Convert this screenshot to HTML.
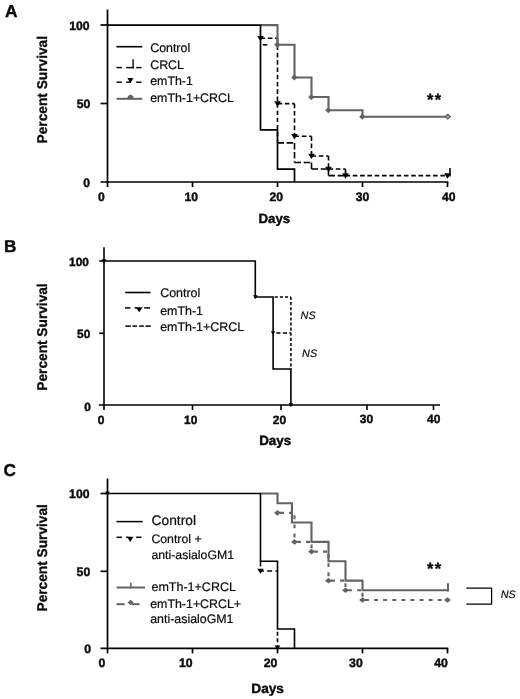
<!DOCTYPE html>
<html><head><meta charset="utf-8"><title>Survival curves</title>
<style>
html,body{margin:0;padding:0;background:#fff;}
body{width:520px;height:699px;overflow:hidden;font-family:"Liberation Sans",sans-serif;}
svg{display:block;will-change:transform;}
text{text-rendering:geometricPrecision;}
</style></head>
<body>
<svg width="520" height="699" viewBox="0 0 520 699">
<rect x="0" y="0" width="520" height="699" fill="#ffffff"/>
<line x1="107.50" y1="9.50" x2="107.50" y2="182.85" stroke="#000" stroke-width="1.7"/>
<line x1="100.50" y1="182.00" x2="448.35" y2="182.00" stroke="#000" stroke-width="1.7"/>
<line x1="100.50" y1="25.00" x2="107.50" y2="25.00" stroke="#000" stroke-width="1.7"/>
<line x1="100.50" y1="103.50" x2="107.50" y2="103.50" stroke="#000" stroke-width="1.7"/>
<line x1="107.50" y1="182.00" x2="107.50" y2="187.00" stroke="#000" stroke-width="1.7"/>
<line x1="192.50" y1="182.00" x2="192.50" y2="187.00" stroke="#000" stroke-width="1.7"/>
<line x1="277.50" y1="182.00" x2="277.50" y2="187.00" stroke="#000" stroke-width="1.7"/>
<line x1="362.50" y1="182.00" x2="362.50" y2="187.00" stroke="#000" stroke-width="1.7"/>
<line x1="447.50" y1="182.00" x2="447.50" y2="187.00" stroke="#000" stroke-width="1.7"/>
<text x="5.10" y="17.00" font-family="Liberation Sans, sans-serif" font-size="17.3" font-weight="bold" font-style="normal" text-anchor="start" fill="#0a0a0a" stroke="#0a0a0a" stroke-width="0.4" >A</text>
<text x="89.50" y="29.60" font-family="Liberation Sans, sans-serif" font-size="12.2" font-weight="bold" font-style="normal" text-anchor="end" fill="#0a0a0a" stroke="#0a0a0a" stroke-width="0.4" >100</text>
<text x="90.40" y="108.10" font-family="Liberation Sans, sans-serif" font-size="12.2" font-weight="bold" font-style="normal" text-anchor="end" fill="#0a0a0a" stroke="#0a0a0a" stroke-width="0.4" >50</text>
<text x="90.00" y="186.60" font-family="Liberation Sans, sans-serif" font-size="12.2" font-weight="bold" font-style="normal" text-anchor="end" fill="#0a0a0a" stroke="#0a0a0a" stroke-width="0.4" >0</text>
<text x="101.30" y="200.80" font-family="Liberation Sans, sans-serif" font-size="12.2" font-weight="bold" font-style="normal" text-anchor="middle" fill="#0a0a0a" stroke="#0a0a0a" stroke-width="0.4" >0</text>
<text x="191.20" y="200.80" font-family="Liberation Sans, sans-serif" font-size="12.2" font-weight="bold" font-style="normal" text-anchor="middle" fill="#0a0a0a" stroke="#0a0a0a" stroke-width="0.4" >10</text>
<text x="276.30" y="200.80" font-family="Liberation Sans, sans-serif" font-size="12.2" font-weight="bold" font-style="normal" text-anchor="middle" fill="#0a0a0a" stroke="#0a0a0a" stroke-width="0.4" >20</text>
<text x="362.60" y="200.80" font-family="Liberation Sans, sans-serif" font-size="12.2" font-weight="bold" font-style="normal" text-anchor="middle" fill="#0a0a0a" stroke="#0a0a0a" stroke-width="0.4" >30</text>
<text x="448.80" y="200.80" font-family="Liberation Sans, sans-serif" font-size="12.2" font-weight="bold" font-style="normal" text-anchor="middle" fill="#0a0a0a" stroke="#0a0a0a" stroke-width="0.4" >40</text>
<text x="274.30" y="222.90" font-family="Liberation Sans, sans-serif" font-size="13.3" font-weight="bold" font-style="normal" text-anchor="middle" fill="#0a0a0a" stroke="#0a0a0a" stroke-width="0.4" >Days</text>
<text transform="translate(46.9,89.7) rotate(-90) scale(0.972,1)" font-family="Liberation Sans, sans-serif" font-size="14.1" font-weight="bold" text-anchor="middle" fill="#0a0a0a" stroke="#0a0a0a" stroke-width="0.3">Percent Survival</text>
<line x1="262.70" y1="44.78" x2="267.30" y2="44.78" stroke="#000" stroke-width="1.6"/>
<path d="M277.50,103.65 L277.50,142.90" fill="none" stroke="#000" stroke-width="1.6" stroke-dasharray="4.2,2.9" stroke-dashoffset="0" stroke-linecap="butt" stroke-linejoin="miter"/>
<path d="M277.50,142.90 L294.50,142.90 M294.50,142.90 L294.50,162.53 M294.50,162.53 L311.50,162.53 M311.50,162.53 L311.50,169.07 M311.50,169.07 L328.50,169.07 M328.50,169.07 L328.50,175.60 M328.50,175.60 L345.50,175.60" fill="none" stroke="#000" stroke-width="1.6" stroke-dasharray="6.5,2.7" stroke-dashoffset="0" stroke-linecap="butt" stroke-linejoin="miter"/>
<line x1="450.00" y1="168.00" x2="450.00" y2="176.50" stroke="#000" stroke-width="1.6"/>
<path d="M260.50,38.18 L277.50,38.18 M277.50,38.18 L277.50,103.65 M277.50,103.65 L294.50,103.65 M294.50,103.65 L294.50,136.31 M294.50,136.31 L311.50,136.31 M311.50,136.31 L311.50,155.93 M311.50,155.93 L328.50,155.93 M328.50,155.93 L328.50,169.07 M328.50,169.07 L345.50,169.07 M345.50,169.07 L345.50,175.60 M345.50,175.60 L447.50,175.60" fill="none" stroke="#000" stroke-width="1.6" stroke-dasharray="4.6,2.7" stroke-dashoffset="0" stroke-linecap="butt" stroke-linejoin="miter"/>
<path d="M257.20,35.88 L263.80,35.88 L260.50,41.28 Z" fill="#000"/>
<path d="M274.20,101.35 L280.80,101.35 L277.50,106.75 Z" fill="#000"/>
<path d="M291.20,134.01 L297.80,134.01 L294.50,139.41 Z" fill="#000"/>
<path d="M308.20,153.63 L314.80,153.63 L311.50,159.03 Z" fill="#000"/>
<path d="M325.20,166.77 L331.80,166.77 L328.50,172.17 Z" fill="#000"/>
<path d="M342.20,173.30 L348.80,173.30 L345.50,178.70 Z" fill="#000"/>
<path d="M444.20,173.30 L450.80,173.30 L447.50,178.70 Z" fill="#000"/>
<path d="M260.50,25.15 L277.50,25.15 L277.50,44.78 L294.50,44.78 L294.50,77.43 L311.50,77.43 L311.50,97.06 L328.50,97.06 L328.50,110.24 L362.50,110.24 L362.50,116.68 L447.50,116.68" fill="none" stroke="#636363" stroke-width="2.1" stroke-linecap="butt" stroke-linejoin="miter"/>
<path d="M274.20,44.78 L277.30,41.68 L280.40,44.78 L277.30,47.88 Z" fill="#636363"/>
<path d="M291.20,77.43 L294.30,74.33 L297.40,77.43 L294.30,80.53 Z" fill="#636363"/>
<path d="M308.20,97.06 L311.30,93.96 L314.40,97.06 L311.30,100.16 Z" fill="#636363"/>
<path d="M325.20,110.24 L328.30,107.14 L331.40,110.24 L328.30,113.34 Z" fill="#636363"/>
<path d="M359.20,116.68 L362.30,113.58 L365.40,116.68 L362.30,119.78 Z" fill="#636363"/>
<path d="M444.90,116.68 L447.80,114.28 L450.50,116.68 L447.80,119.08 Z" fill="#a8a8a8" stroke="#636363" stroke-width="1.2"/>
<path d="M107.50,25.15 L260.50,25.15 L260.50,129.87 L277.50,129.87 L277.50,169.07 L294.50,169.07 L294.50,182.15" fill="none" stroke="#000" stroke-width="1.7" stroke-linecap="butt" stroke-linejoin="miter"/>
<text x="426.90" y="104.90" font-family="Liberation Sans, sans-serif" font-size="16.3" font-weight="bold" font-style="normal" text-anchor="start" fill="#0a0a0a" stroke="#0a0a0a" stroke-width="0.4" letter-spacing="1.5">**</text>
<line x1="116.40" y1="46.70" x2="142.30" y2="46.70" stroke="#000" stroke-width="1.6"/>
<text x="150.20" y="52.20" font-family="Liberation Sans, sans-serif" font-size="12.4" font-weight="normal" font-style="normal" text-anchor="start" fill="#0a0a0a" stroke="#0a0a0a" stroke-width="0.2" >Control</text>
<line x1="116.50" y1="67.60" x2="121.90" y2="67.60" stroke="#000" stroke-width="1.45"/>
<line x1="126.20" y1="67.60" x2="133.90" y2="67.60" stroke="#000" stroke-width="1.45"/>
<line x1="136.20" y1="67.60" x2="141.50" y2="67.60" stroke="#000" stroke-width="1.45"/>
<line x1="133.10" y1="59.20" x2="133.10" y2="68.30" stroke="#000" stroke-width="1.35"/>
<text x="150.20" y="69.00" font-family="Liberation Sans, sans-serif" font-size="12.4" font-weight="normal" font-style="normal" text-anchor="start" fill="#0a0a0a" stroke="#0a0a0a" stroke-width="0.2" >CRCL</text>
<line x1="116.50" y1="82.20" x2="121.90" y2="82.20" stroke="#000" stroke-width="1.45"/>
<line x1="126.20" y1="82.20" x2="131.00" y2="82.20" stroke="#000" stroke-width="1.45"/>
<line x1="136.20" y1="82.20" x2="141.50" y2="82.20" stroke="#000" stroke-width="1.45"/>
<path d="M127.30,78.00 L133.50,78.00 L130.40,83.00 Z" fill="#000"/>
<text x="150.20" y="85.30" font-family="Liberation Sans, sans-serif" font-size="12.4" font-weight="normal" font-style="normal" text-anchor="start" fill="#0a0a0a" stroke="#0a0a0a" stroke-width="0.2" >emTh-1</text>
<line x1="116.50" y1="98.80" x2="142.30" y2="98.80" stroke="#636363" stroke-width="2.0"/>
<path d="M127.2,98.8 C127.6,93.4 133.4,93.4 133.8,98.8 Z" fill="#636363"/>
<text x="150.20" y="102.20" font-family="Liberation Sans, sans-serif" font-size="12.4" font-weight="normal" font-style="normal" text-anchor="start" fill="#0a0a0a" stroke="#0a0a0a" stroke-width="0.2" >emTh-1+CRCL</text>
<line x1="104.00" y1="247.30" x2="104.00" y2="405.80" stroke="#000" stroke-width="1.6"/>
<line x1="98.80" y1="405.00" x2="440.00" y2="405.00" stroke="#000" stroke-width="1.6"/>
<line x1="99.20" y1="261.00" x2="104.00" y2="261.00" stroke="#000" stroke-width="1.6"/>
<line x1="99.20" y1="333.30" x2="104.00" y2="333.30" stroke="#000" stroke-width="1.6"/>
<line x1="104.00" y1="405.00" x2="104.00" y2="410.00" stroke="#000" stroke-width="1.6"/>
<line x1="192.50" y1="405.00" x2="192.50" y2="410.00" stroke="#000" stroke-width="1.6"/>
<line x1="281.00" y1="405.00" x2="281.00" y2="410.00" stroke="#000" stroke-width="1.6"/>
<line x1="367.00" y1="405.00" x2="367.00" y2="410.00" stroke="#000" stroke-width="1.6"/>
<line x1="433.50" y1="405.00" x2="433.50" y2="410.00" stroke="#000" stroke-width="1.6"/>
<text x="4.00" y="252.30" font-family="Liberation Sans, sans-serif" font-size="17.2" font-weight="bold" font-style="normal" text-anchor="start" fill="#0a0a0a" stroke="#0a0a0a" stroke-width="0.4" >B</text>
<text x="88.90" y="265.90" font-family="Liberation Sans, sans-serif" font-size="11.9" font-weight="bold" font-style="normal" text-anchor="end" fill="#0a0a0a" stroke="#0a0a0a" stroke-width="0.4" >100</text>
<text x="90.30" y="338.20" font-family="Liberation Sans, sans-serif" font-size="11.9" font-weight="bold" font-style="normal" text-anchor="end" fill="#0a0a0a" stroke="#0a0a0a" stroke-width="0.4" >50</text>
<text x="90.90" y="410.70" font-family="Liberation Sans, sans-serif" font-size="11.9" font-weight="bold" font-style="normal" text-anchor="end" fill="#0a0a0a" stroke="#0a0a0a" stroke-width="0.4" >0</text>
<text x="101.00" y="423.70" font-family="Liberation Sans, sans-serif" font-size="12.0" font-weight="bold" font-style="normal" text-anchor="middle" fill="#0a0a0a" stroke="#0a0a0a" stroke-width="0.4" >0</text>
<text x="190.80" y="423.90" font-family="Liberation Sans, sans-serif" font-size="12.0" font-weight="bold" font-style="normal" text-anchor="middle" fill="#0a0a0a" stroke="#0a0a0a" stroke-width="0.4" >10</text>
<text x="279.50" y="423.70" font-family="Liberation Sans, sans-serif" font-size="12.0" font-weight="bold" font-style="normal" text-anchor="middle" fill="#0a0a0a" stroke="#0a0a0a" stroke-width="0.4" >20</text>
<text x="366.50" y="422.90" font-family="Liberation Sans, sans-serif" font-size="12.0" font-weight="bold" font-style="normal" text-anchor="middle" fill="#0a0a0a" stroke="#0a0a0a" stroke-width="0.4" >30</text>
<text x="433.70" y="422.60" font-family="Liberation Sans, sans-serif" font-size="12.0" font-weight="bold" font-style="normal" text-anchor="middle" fill="#0a0a0a" stroke="#0a0a0a" stroke-width="0.4" >40</text>
<text x="275.20" y="444.80" font-family="Liberation Sans, sans-serif" font-size="13.4" font-weight="bold" font-style="normal" text-anchor="middle" fill="#0a0a0a" stroke="#0a0a0a" stroke-width="0.4" >Days</text>
<text transform="translate(46.9,337) rotate(-90) scale(0.972,1)" font-family="Liberation Sans, sans-serif" font-size="14.1" font-weight="bold" text-anchor="middle" fill="#0a0a0a" stroke="#0a0a0a" stroke-width="0.3">Percent Survival</text>
<path d="M273.10,297.00 L290.90,297.00" fill="none" stroke="#000" stroke-width="1.5" stroke-dasharray="3.1,2.05" stroke-dashoffset="3.55" stroke-linecap="butt" stroke-linejoin="miter"/>
<path d="M290.90,297.00 L290.90,369.00" fill="none" stroke="#000" stroke-width="1.5" stroke-dasharray="3.1,2.0" stroke-dashoffset="0" stroke-linecap="butt" stroke-linejoin="miter"/>
<path d="M273.10,333.00 L290.90,333.00" fill="none" stroke="#000" stroke-width="1.5" stroke-dasharray="4.2,2.3" stroke-dashoffset="3.3" stroke-linecap="butt" stroke-linejoin="miter"/>
<path d="M104.00,261.00 L255.30,261.00 L255.30,297.00 L273.10,297.00 L273.10,369.00 L290.90,369.00 L290.90,405.00" fill="none" stroke="#000" stroke-width="1.6" stroke-linecap="butt" stroke-linejoin="miter"/>
<path d="M101.70,259.30 L106.30,259.30 L104.00,263.30 Z" fill="#000"/>
<path d="M253.00,295.30 L257.60,295.30 L255.30,299.30 Z" fill="#000"/>
<path d="M270.80,331.30 L275.40,331.30 L273.10,335.30 Z" fill="#000"/>
<path d="M288.60,403.30 L293.20,403.30 L290.90,407.30 Z" fill="#000"/>
<text x="300.60" y="318.60" font-family="Liberation Sans, sans-serif" font-size="10.8" font-weight="normal" font-style="italic" text-anchor="start" fill="#0a0a0a" stroke="#0a0a0a" stroke-width="0.2" >NS</text>
<text x="302.10" y="357.10" font-family="Liberation Sans, sans-serif" font-size="10.8" font-weight="normal" font-style="italic" text-anchor="start" fill="#0a0a0a" stroke="#0a0a0a" stroke-width="0.2" >NS</text>
<line x1="125.20" y1="292.50" x2="150.50" y2="292.50" stroke="#000" stroke-width="1.6"/>
<text x="160.20" y="297.10" font-family="Liberation Sans, sans-serif" font-size="12.45" font-weight="normal" font-style="normal" text-anchor="start" fill="#0a0a0a" stroke="#0a0a0a" stroke-width="0.2" >Control</text>
<line x1="125.00" y1="307.90" x2="130.40" y2="307.90" stroke="#000" stroke-width="1.5"/>
<line x1="134.60" y1="307.90" x2="137.00" y2="307.90" stroke="#000" stroke-width="1.5"/>
<line x1="144.20" y1="307.90" x2="150.00" y2="307.90" stroke="#000" stroke-width="1.5"/>
<path d="M135.75,307.15 L142.65,307.15 L139.20,312.25 Z" fill="#000"/>
<text x="160.20" y="314.60" font-family="Liberation Sans, sans-serif" font-size="12.45" font-weight="normal" font-style="normal" text-anchor="start" fill="#0a0a0a" stroke="#0a0a0a" stroke-width="0.2" >emTh-1</text>
<line x1="125.40" y1="326.10" x2="130.80" y2="326.10" stroke="#000" stroke-width="1.5"/>
<line x1="132.40" y1="326.10" x2="136.90" y2="326.10" stroke="#000" stroke-width="1.5"/>
<line x1="139.20" y1="326.10" x2="143.80" y2="326.10" stroke="#000" stroke-width="1.5"/>
<line x1="145.50" y1="326.10" x2="150.80" y2="326.10" stroke="#000" stroke-width="1.5"/>
<text x="160.20" y="331.40" font-family="Liberation Sans, sans-serif" font-size="12.45" font-weight="normal" font-style="normal" text-anchor="start" fill="#0a0a0a" stroke="#0a0a0a" stroke-width="0.2" >emTh-1+CRCL</text>
<line x1="107.50" y1="478.50" x2="107.50" y2="649.25" stroke="#000" stroke-width="1.7"/>
<line x1="100.50" y1="648.40" x2="448.30" y2="648.40" stroke="#000" stroke-width="1.7"/>
<line x1="100.50" y1="493.50" x2="107.50" y2="493.50" stroke="#000" stroke-width="1.7"/>
<line x1="100.50" y1="571.30" x2="107.50" y2="571.30" stroke="#000" stroke-width="1.7"/>
<line x1="107.50" y1="648.40" x2="107.50" y2="653.40" stroke="#000" stroke-width="1.7"/>
<line x1="192.50" y1="648.40" x2="192.50" y2="653.40" stroke="#000" stroke-width="1.7"/>
<line x1="277.50" y1="648.40" x2="277.50" y2="653.40" stroke="#000" stroke-width="1.7"/>
<line x1="362.50" y1="648.40" x2="362.50" y2="653.40" stroke="#000" stroke-width="1.7"/>
<line x1="447.50" y1="648.40" x2="447.50" y2="653.40" stroke="#000" stroke-width="1.7"/>
<text x="3.60" y="475.90" font-family="Liberation Sans, sans-serif" font-size="17.2" font-weight="bold" font-style="normal" text-anchor="start" fill="#0a0a0a" stroke="#0a0a0a" stroke-width="0.4" >C</text>
<text x="89.60" y="498.10" font-family="Liberation Sans, sans-serif" font-size="12.3" font-weight="bold" font-style="normal" text-anchor="end" fill="#0a0a0a" stroke="#0a0a0a" stroke-width="0.4" >100</text>
<text x="90.30" y="575.80" font-family="Liberation Sans, sans-serif" font-size="12.3" font-weight="bold" font-style="normal" text-anchor="end" fill="#0a0a0a" stroke="#0a0a0a" stroke-width="0.4" >50</text>
<text x="91.00" y="653.00" font-family="Liberation Sans, sans-serif" font-size="12.3" font-weight="bold" font-style="normal" text-anchor="end" fill="#0a0a0a" stroke="#0a0a0a" stroke-width="0.4" >0</text>
<text x="102.00" y="667.40" font-family="Liberation Sans, sans-serif" font-size="12.3" font-weight="bold" font-style="normal" text-anchor="middle" fill="#0a0a0a" stroke="#0a0a0a" stroke-width="0.4" >0</text>
<text x="185.80" y="667.40" font-family="Liberation Sans, sans-serif" font-size="12.3" font-weight="bold" font-style="normal" text-anchor="middle" fill="#0a0a0a" stroke="#0a0a0a" stroke-width="0.4" >10</text>
<text x="270.50" y="667.40" font-family="Liberation Sans, sans-serif" font-size="12.3" font-weight="bold" font-style="normal" text-anchor="middle" fill="#0a0a0a" stroke="#0a0a0a" stroke-width="0.4" >20</text>
<text x="355.90" y="667.40" font-family="Liberation Sans, sans-serif" font-size="12.3" font-weight="bold" font-style="normal" text-anchor="middle" fill="#0a0a0a" stroke="#0a0a0a" stroke-width="0.4" >30</text>
<text x="441.00" y="667.40" font-family="Liberation Sans, sans-serif" font-size="12.3" font-weight="bold" font-style="normal" text-anchor="middle" fill="#0a0a0a" stroke="#0a0a0a" stroke-width="0.4" >40</text>
<text x="267.60" y="693.40" font-family="Liberation Sans, sans-serif" font-size="13.6" font-weight="bold" font-style="normal" text-anchor="middle" fill="#0a0a0a" stroke="#0a0a0a" stroke-width="0.4" >Days</text>
<text transform="translate(46.9,557.8) rotate(-90) scale(0.972,1)" font-family="Liberation Sans, sans-serif" font-size="14.1" font-weight="bold" text-anchor="middle" fill="#0a0a0a" stroke="#0a0a0a" stroke-width="0.3">Percent Survival</text>
<path d="M277.50,512.86 L294.50,512.86 M294.50,512.86 L294.50,541.91 M294.50,541.91 L311.50,541.91 M311.50,541.91 L311.50,551.59 M311.50,551.59 L328.50,551.59 M328.50,551.59 L328.50,580.63 M328.50,580.63 L345.50,580.63 M345.50,580.63 L345.50,590.31 M345.50,590.31 L362.50,590.31 M362.50,590.31 L362.50,599.99 M362.50,599.99 L447.50,599.99" fill="none" stroke="#636363" stroke-width="2.1" stroke-dasharray="3.9,5.2" stroke-dashoffset="6.6" stroke-linecap="butt" stroke-linejoin="miter"/>
<path d="M274.10,512.86 L277.50,510.06 L280.90,512.86 L277.50,515.66 Z" fill="#636363"/>
<path d="M291.10,541.91 L294.50,539.11 L297.90,541.91 L294.50,544.71 Z" fill="#636363"/>
<path d="M308.10,551.59 L311.50,548.79 L314.90,551.59 L311.50,554.39 Z" fill="#636363"/>
<path d="M325.10,580.63 L328.50,577.83 L331.90,580.63 L328.50,583.43 Z" fill="#636363"/>
<path d="M342.10,590.31 L345.50,587.51 L348.90,590.31 L345.50,593.11 Z" fill="#636363"/>
<path d="M359.10,599.99 L362.50,597.19 L365.90,599.99 L362.50,602.79 Z" fill="#636363"/>
<path d="M444.10,599.99 L447.50,597.19 L450.90,599.99 L447.50,602.79 Z" fill="#636363"/>
<path d="M260.50,493.50 L277.50,493.50 L277.50,503.18 L291.95,503.18 L291.95,522.54 L311.50,522.54 L311.50,541.91 L328.50,541.91 L328.50,561.27 L345.50,561.27 L345.50,580.63 L362.50,580.63 L362.50,590.31 L447.50,590.31" fill="none" stroke="#636363" stroke-width="2.1" stroke-linecap="butt" stroke-linejoin="miter"/>
<line x1="448.00" y1="583.30" x2="448.00" y2="591.40" stroke="#636363" stroke-width="2.0"/>
<path d="M260.50,561.27 L260.50,570.95" fill="none" stroke="#000" stroke-width="1.5" stroke-dasharray="5.2,6" stroke-dashoffset="0" stroke-linecap="butt" stroke-linejoin="miter"/>
<path d="M260.50,570.95 L277.50,570.95" fill="none" stroke="#000" stroke-width="1.5" stroke-dasharray="5,3.3" stroke-dashoffset="1.6" stroke-linecap="butt" stroke-linejoin="miter"/>
<path d="M277.50,629.04 L277.50,648.40" fill="none" stroke="#000" stroke-width="1.6" stroke-dasharray="3.9,2.7" stroke-dashoffset="3.9" stroke-linecap="butt" stroke-linejoin="miter"/>
<path d="M107.50,493.50 L260.50,493.50 L260.50,561.27 L277.50,561.27 L277.50,629.04 L294.50,629.04 L294.50,648.40" fill="none" stroke="#000" stroke-width="1.6" stroke-linecap="butt" stroke-linejoin="miter"/>
<path d="M105.20,491.50 L109.80,491.50 L107.50,495.50 Z" fill="#000"/>
<path d="M257.25,568.65 L263.75,568.65 L260.50,573.85 Z" fill="#000"/>
<path d="M274.60,645.60 L280.40,645.60 L277.50,650.00 Z" fill="#000"/>
<text x="426.90" y="573.90" font-family="Liberation Sans, sans-serif" font-size="16.3" font-weight="bold" font-style="normal" text-anchor="start" fill="#0a0a0a" stroke="#0a0a0a" stroke-width="0.4" letter-spacing="1.5">**</text>
<path d="M466.3,588.0 L491.6,588.0 L491.6,604.1 L466.3,604.1" fill="none" stroke="#000" stroke-width="1.25" stroke-linecap="butt" stroke-linejoin="miter"/>
<text x="500.80" y="598.40" font-family="Liberation Sans, sans-serif" font-size="10.8" font-weight="normal" font-style="italic" text-anchor="start" fill="#0a0a0a" stroke="#0a0a0a" stroke-width="0.2" >NS</text>
<line x1="116.50" y1="521.60" x2="142.70" y2="521.60" stroke="#000" stroke-width="1.5"/>
<text x="151.50" y="525.40" font-family="Liberation Sans, sans-serif" font-size="13.8" font-weight="normal" font-style="normal" text-anchor="start" fill="#0a0a0a" stroke="#0a0a0a" stroke-width="0.2" >Control</text>
<line x1="116.50" y1="537.30" x2="121.90" y2="537.30" stroke="#000" stroke-width="1.5"/>
<line x1="126.20" y1="537.30" x2="128.50" y2="537.30" stroke="#000" stroke-width="1.5"/>
<line x1="136.20" y1="537.30" x2="141.50" y2="537.30" stroke="#000" stroke-width="1.5"/>
<path d="M127.00,536.70 L133.40,536.70 L130.20,541.90 Z" fill="#000"/>
<text x="151.40" y="542.80" font-family="Liberation Sans, sans-serif" font-size="12.3" font-weight="normal" font-style="normal" text-anchor="start" fill="#0a0a0a" stroke="#0a0a0a" stroke-width="0.2" >Control +</text>
<text x="151.40" y="559.00" font-family="Liberation Sans, sans-serif" font-size="12.3" font-weight="normal" font-style="normal" text-anchor="start" fill="#0a0a0a" stroke="#0a0a0a" stroke-width="0.2" >anti-asialoGM1</text>
<line x1="116.50" y1="587.50" x2="145.00" y2="587.50" stroke="#636363" stroke-width="2.0"/>
<line x1="130.80" y1="582.70" x2="130.80" y2="588.40" stroke="#636363" stroke-width="1.5"/>
<text x="151.50" y="591.10" font-family="Liberation Sans, sans-serif" font-size="12.5" font-weight="normal" font-style="normal" text-anchor="start" fill="#0a0a0a" stroke="#0a0a0a" stroke-width="0.2" >emTh-1+CRCL</text>
<line x1="116.50" y1="604.20" x2="124.60" y2="604.20" stroke="#636363" stroke-width="2.0"/>
<line x1="131.50" y1="604.20" x2="139.60" y2="604.20" stroke="#636363" stroke-width="2.0"/>
<path d="M127.50,602.40 L130.60,599.70 L133.70,602.40 L130.60,605.10 Z" fill="#636363"/>
<text x="150.20" y="608.20" font-family="Liberation Sans, sans-serif" font-size="12.4" font-weight="normal" font-style="normal" text-anchor="start" fill="#0a0a0a" stroke="#0a0a0a" stroke-width="0.2" >emTh-1+CRCL+</text>
<text x="150.20" y="622.70" font-family="Liberation Sans, sans-serif" font-size="12.4" font-weight="normal" font-style="normal" text-anchor="start" fill="#0a0a0a" stroke="#0a0a0a" stroke-width="0.2" >anti-asialoGM1</text>
</svg>
</body></html>
